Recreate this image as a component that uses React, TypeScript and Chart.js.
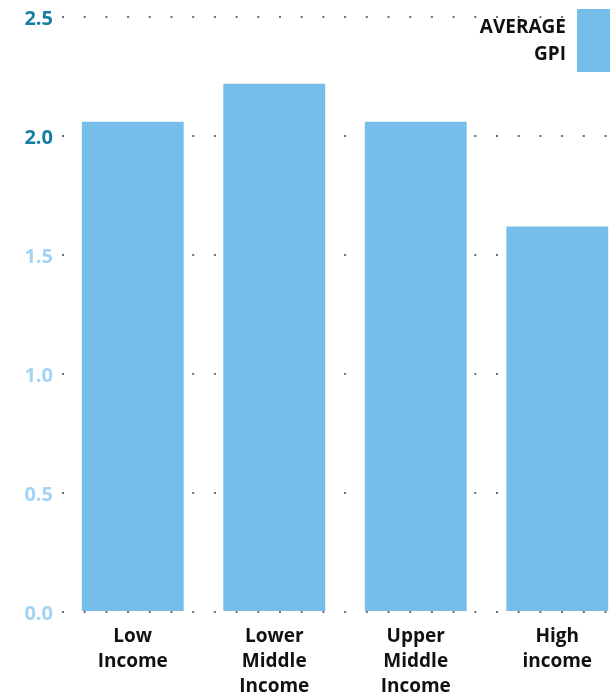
import React, { useEffect, useRef } from "react";
import { Chart, registerables } from "chart.js";

Chart.register(...registerables);

const categories: string[][] = [
  ["Low", "Income"],
  ["Lower", "Middle", "Income"],
  ["Upper", "Middle", "Income"],
  ["High", "income"],
];
const averageGpi: number[] = [2.06, 2.22, 2.06, 1.62];
const legendLines: string[] = ["AVERAGE", "GPI"];
const seriesLabel = "AVERAGE GPI";

const BAR_COLOR = "#76bee9";
const FONT = "'Open Sans', 'Noto Sans', sans-serif";

const legendPlugin = {
  id: "customLegend",
  afterDraw(chart: any) {
    const ctx = chart.ctx;
    ctx.save();
    ctx.fillStyle = BAR_COLOR;
    ctx.fillRect(577, 9, 45, 63);
    ctx.fillStyle = "#111111";
    ctx.font = `bold 19px ${FONT}`;
    ctx.textAlign = "right";
    ctx.textBaseline = "middle";
    legendLines.forEach((line, i) => {
      ctx.fillText(line, 566, 28 + i * 27);
    });
    ctx.restore();
  },
};

export default function App() {
  const ref = useRef<HTMLCanvasElement | null>(null);
  useEffect(() => {
    if (!ref.current) return;
    const chart = new Chart(ref.current, {
      type: "bar",
      data: {
        labels: categories,
        datasets: [
          {
            label: seriesLabel,
            data: averageGpi,
            backgroundColor: BAR_COLOR,
            borderWidth: 0,
            barPercentage: 0.72,
            categoryPercentage: 1,
          },
        ],
      },
      options: {
        responsive: false,
        animation: false,
        layout: { padding: { top: 17, left: 0, right: 0, bottom: 0 } },
        plugins: {
          legend: { display: false },
          tooltip: { enabled: false },
        },
        scales: {
          x: {
            offset: true,
            grid: { display: false },
            border: { display: false },
            ticks: {
              color: "#111111",
              font: { family: FONT, size: 19, weight: "bold", lineHeight: 1.32 },
              padding: 4,
              maxRotation: 0,
              autoSkip: false,
            },
            afterFit(scale: any) {
              scale.height = 83;
            },
          },
          y: {
            min: 0,
            max: 2.5,
            border: { display: false, dash: [2, 19.7] },
            grid: {
              color: "#6f6f6f",
              lineWidth: 2,
              drawTicks: false,
            },
            ticks: {
              stepSize: 0.5,
              padding: 9,
              labelOffset: 2,
              font: { family: FONT, size: 20, weight: "bold", lineHeight: 0.8 },
              color: (c: any) => (c.tick && c.tick.value >= 2 ? "#177da3" : "#a3d4f3"),
              callback: (v: any) => Number(v).toFixed(1),
            },
            afterFit(scale: any) {
              scale.width = 62;
            },
          },
        },
      },
      plugins: [legendPlugin],
    });
    return () => chart.destroy();
  }, []);
  return (
    <div
      style={{
        position: "fixed",
        left: 0,
        top: 0,
        width: 610,
        height: 695,
        overflow: "hidden",
        background: "#ffffff",
      }}
    >
      <canvas ref={ref} width={628} height={695} style={{ width: 628, height: 695, display: "block" }} />
    </div>
  );
}
